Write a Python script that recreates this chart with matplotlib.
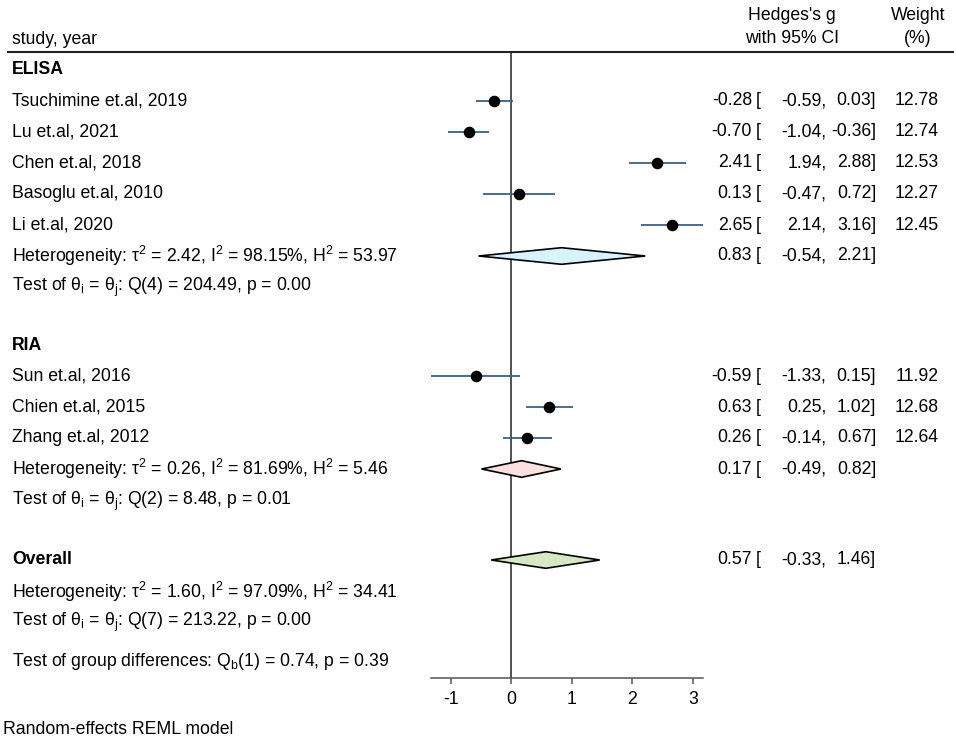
import matplotlib
matplotlib.use('Agg')
import matplotlib.pyplot as plt
from matplotlib.lines import Line2D

plt.rcParams['font.family'] = ['Liberation Sans', 'DejaVu Sans']
plt.rcParams['mathtext.fontset'] = 'custom'
plt.rcParams['mathtext.rm'] = 'Liberation Sans'
plt.rcParams['axes.unicode_minus'] = False

# --- data ---
studies = ['Tsuchimine et.al, 2019', 'Lu et.al, 2021', 'Chen et.al, 2018',
           'Basoglu et.al, 2010', 'Li et.al, 2020',
           'Sun et.al, 2016', 'Chien et.al, 2015', 'Zhang et.al, 2012']
g = [-0.28, -0.70, 2.41, 0.13, 2.65, -0.59, 0.63, 0.26]
ci_lo = [-0.59, -1.04, 1.94, -0.47, 2.14, -1.33, 0.25, -0.14]
ci_hi = [0.03, -0.36, 2.88, 0.72, 3.16, 0.15, 1.02, 0.67]
weights = [12.78, 12.74, 12.53, 12.27, 12.45, 11.92, 12.68, 12.64]

pooled_names = ['ELISA', 'RIA', 'Overall']
pooled_g = [0.83, 0.17, 0.57]
pooled_lo = [-0.54, -0.49, -0.33]
pooled_hi = [2.21, 0.82, 1.46]
pooled_colors = ['#d8f3fb', '#fbe0e0', '#d7e8c5']

het_text = [r'Heterogeneity: τ$^\mathregular{2}$ = 2.42, I$^\mathregular{2}$ = 98.15%, H$^\mathregular{2}$ = 53.97',
            r'Heterogeneity: τ$^\mathregular{2}$ = 0.26, I$^\mathregular{2}$ = 81.69%, H$^\mathregular{2}$ = 5.46',
            r'Heterogeneity: τ$^\mathregular{2}$ = 1.60, I$^\mathregular{2}$ = 97.09%, H$^\mathregular{2}$ = 34.41']
test_text = [r'Test of θ$_\mathregular{i}$ = θ$_\mathregular{j}$: Q(4) = 204.49, p = 0.00',
             r'Test of θ$_\mathregular{i}$ = θ$_\mathregular{j}$: Q(2) = 8.48, p = 0.01',
             r'Test of θ$_\mathregular{i}$ = θ$_\mathregular{j}$: Q(7) = 213.22, p = 0.00']
group_test = r'Test of group differences: Q$_\mathregular{b}$(1) = 0.74, p = 0.39'

# row layout (pixel rows of the 957x743 canvas)
study_rows = [100.5, 131.7, 162.6, 193.8, 225, 376, 407, 438]
group_rows = [69.5, 346, 560]
het_rows = [256, 469, 591.5]
test_rows = [287.5, 501, 622]

W, H = 957, 743
fs = 12.7

fig = plt.figure(figsize=(W / 100, H / 100), dpi=100)

def fx(x):
    return x / W

def fy(y):
    return 1 - y / H

ax = fig.add_axes([fx(430.7), fy(678), (702.7 - 430.7) / W, (678 - 52) / H])
ax.set_xlim(min(ci_lo), max(ci_hi))
ax.set_ylim(678, 52)
for s in ['top', 'left', 'right']:
    ax.spines[s].set_visible(False)
ax.spines['bottom'].set_color('#555555')
ax.spines['bottom'].set_linewidth(1.1)
ax.set_yticks([])
ax.set_xticks([-1, 0, 1, 2, 3])
ax.tick_params(axis='x', direction='out', length=4, width=1.1, color='#555555',
               labelsize=fs, pad=5)
ax.patch.set_visible(False)
ax.axvline(0, color='#333333', lw=1.2, zorder=1)

# study estimates
for i in range(len(studies)):
    ax.plot([ci_lo[i], ci_hi[i]], [study_rows[i]] * 2, color='#3a6187', lw=1.3,
            solid_capstyle='butt', zorder=2, clip_on=False)
    ax.plot(g[i], study_rows[i], 'o', color='black', ms=7.3, zorder=3, clip_on=False)

# pooled diamonds
half_h = 8.3
for k in range(len(pooled_names)):
    y = het_rows[k] if k < 2 else group_rows[2]
    xs = [pooled_lo[k], pooled_g[k], pooled_hi[k], pooled_g[k]]
    ys = [y, y - half_h, y, y + half_h]
    ax.fill(xs, ys, facecolor=pooled_colors[k], edgecolor='black', lw=1.2,
            zorder=4, clip_on=False)

# header
fig.text(fx(12), fy(39), 'study, year', fontsize=fs, va='center')
fig.text(fx(792), fy(16), "Hedges's g", fontsize=fs, va='center', ha='center')
fig.text(fx(792), fy(38.5), 'with 95% CI', fontsize=fs, va='center', ha='center')
fig.text(fx(918), fy(16), 'Weight', fontsize=fs, va='center', ha='center')
fig.text(fx(918), fy(38.5), '(%)', fontsize=fs, va='center', ha='center')
fig.add_artist(Line2D([fx(8), fx(953)], [fy(52), fy(52)], color='#222222', lw=1.5))

def ci_cols(y, est, lo, hi, w=None):
    fig.text(fx(752), fy(y), f'{est:.2f}', fontsize=fs, va='center', ha='right')
    fig.text(fx(756), fy(y), '[', fontsize=fs, va='center', ha='left')
    fig.text(fx(826.5), fy(y), f'{lo:.2f},', fontsize=fs, va='center', ha='right')
    fig.text(fx(876), fy(y), f'{hi:.2f}]', fontsize=fs, va='center', ha='right')
    if w is not None:
        fig.text(fx(938.5), fy(y), f'{w:.2f}', fontsize=fs, va='center', ha='right')

for i in range(len(studies)):
    fig.text(fx(12), fy(study_rows[i]), studies[i], fontsize=fs, va='center')
    ci_cols(study_rows[i], g[i], ci_lo[i], ci_hi[i], weights[i])

for k in range(3):
    fig.text(fx(12), fy(group_rows[k]), pooled_names[k], fontsize=fs,
             va='center', fontweight='bold')
    fig.text(fx(12), fy(het_rows[k]), het_text[k], fontsize=fs, va='center')
    fig.text(fx(12), fy(test_rows[k]), test_text[k], fontsize=fs, va='center')
    y = het_rows[k] if k < 2 else group_rows[2]
    ci_cols(y, pooled_g[k], pooled_lo[k], pooled_hi[k])

fig.text(fx(12), fy(661), group_test, fontsize=fs, va='center')
fig.text(fx(3), fy(730), 'Random-effects REML model', fontsize=fs, va='center')

fig.savefig('out.png', dpi=100, facecolor='white')
